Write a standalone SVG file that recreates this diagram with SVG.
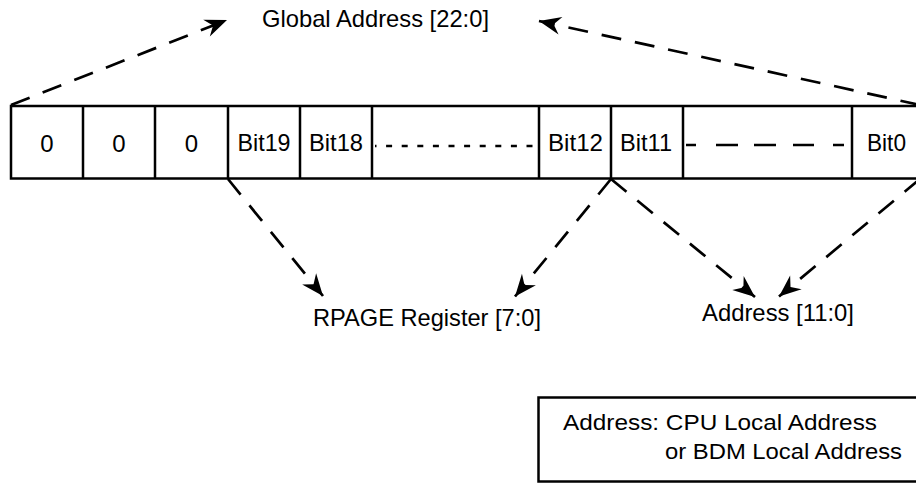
<svg xmlns="http://www.w3.org/2000/svg" width="916" height="483" viewBox="0 0 916 483">
<style>
  .t { font-family: "Liberation Sans", Arial, sans-serif; fill: #000; }
  .lbl { font-size: 24px; }
  .cell { font-size: 24px; text-anchor: middle; }
  .leg { font-size: 22px; }
  .box { fill: none; stroke: #000; stroke-width: 2.5; }
  .conn { fill: none; stroke: #000; stroke-width: 2.7; stroke-dasharray: 20 14; marker-end: url(#arr); }
</style>
<defs>
  <marker id="arr" markerUnits="userSpaceOnUse" markerWidth="30" markerHeight="26" viewBox="-26 -13 30 26" refX="0" refY="0" orient="auto">
    <path d="M0,0 L-22,-9 L-15,0 L-22,9 Z" fill="#000"/>
  </marker>
</defs>
<rect width="916" height="483" fill="#fff"/>

<g id="register">
  <rect class="box" x="11" y="106" width="910" height="72.5"/>
  <path class="box" d="M83,106 V178.5 M155,106 V178.5 M228,106 V178.5 M300,106 V178.5 M372,106 V178.5 M539,106 V178.5 M611,106 V178.5 M683,106 V178.5 M852,106 V178.5"/>
  <text class="t cell" x="47" y="152">0</text>
  <text class="t cell" x="119" y="152">0</text>
  <text class="t cell" x="191.5" y="152">0</text>
  <text class="t cell" x="264" y="151" textLength="53" lengthAdjust="spacingAndGlyphs">Bit19</text>
  <text class="t cell" x="336" y="151" textLength="54" lengthAdjust="spacingAndGlyphs">Bit18</text>
  <text class="t cell" x="575.5" y="151" textLength="55" lengthAdjust="spacingAndGlyphs">Bit12</text>
  <text class="t cell" x="646" y="151" textLength="52" lengthAdjust="spacingAndGlyphs">Bit11</text>
  <text class="t cell" x="886.5" y="151" textLength="39" lengthAdjust="spacingAndGlyphs">Bit0</text>
  <line x1="375" y1="146" x2="539" y2="146" stroke="#000" stroke-width="2.3" stroke-dasharray="6 9.6" stroke-dashoffset="4.5"/>
  <path d="M686,145 H696 M716,145 H738 M754,145 H776 M793,145 H814 M833,145 H844" stroke="#000" stroke-width="2.5" fill="none"/>
</g>

<g id="global-address">
  <text class="t lbl" x="262" y="27" textLength="227" lengthAdjust="spacingAndGlyphs">Global Address [22:0]</text>
</g>
<g id="rpage-register">
  <text class="t lbl" x="313" y="326" textLength="228" lengthAdjust="spacingAndGlyphs">RPAGE Register [7:0]</text>
</g>
<g id="address">
  <text class="t lbl" x="702" y="321" textLength="152" lengthAdjust="spacingAndGlyphs">Address [11:0]</text>
</g>
<g id="legend">
  <rect class="box" x="538.5" y="397.5" width="390" height="84"/>
  <text class="t leg" x="563" y="430" textLength="314" lengthAdjust="spacingAndGlyphs">Address: CPU Local Address</text>
  <text class="t leg" x="665" y="459" textLength="237" lengthAdjust="spacingAndGlyphs">or BDM Local Address</text>
</g>

<g id="connectors">
  <line class="conn" x1="11" y1="105" x2="227" y2="20"/>
  <line class="conn" x1="920" y1="105" x2="539" y2="21"/>
  <line class="conn" x1="228" y1="179" x2="323" y2="296"/>
  <line class="conn" x1="611" y1="179" x2="515" y2="296.5"/>
  <line class="conn" x1="611" y1="179" x2="755" y2="297"/>
  <line class="conn" x1="920" y1="179" x2="779" y2="296.5"/>
</g>
</svg>
